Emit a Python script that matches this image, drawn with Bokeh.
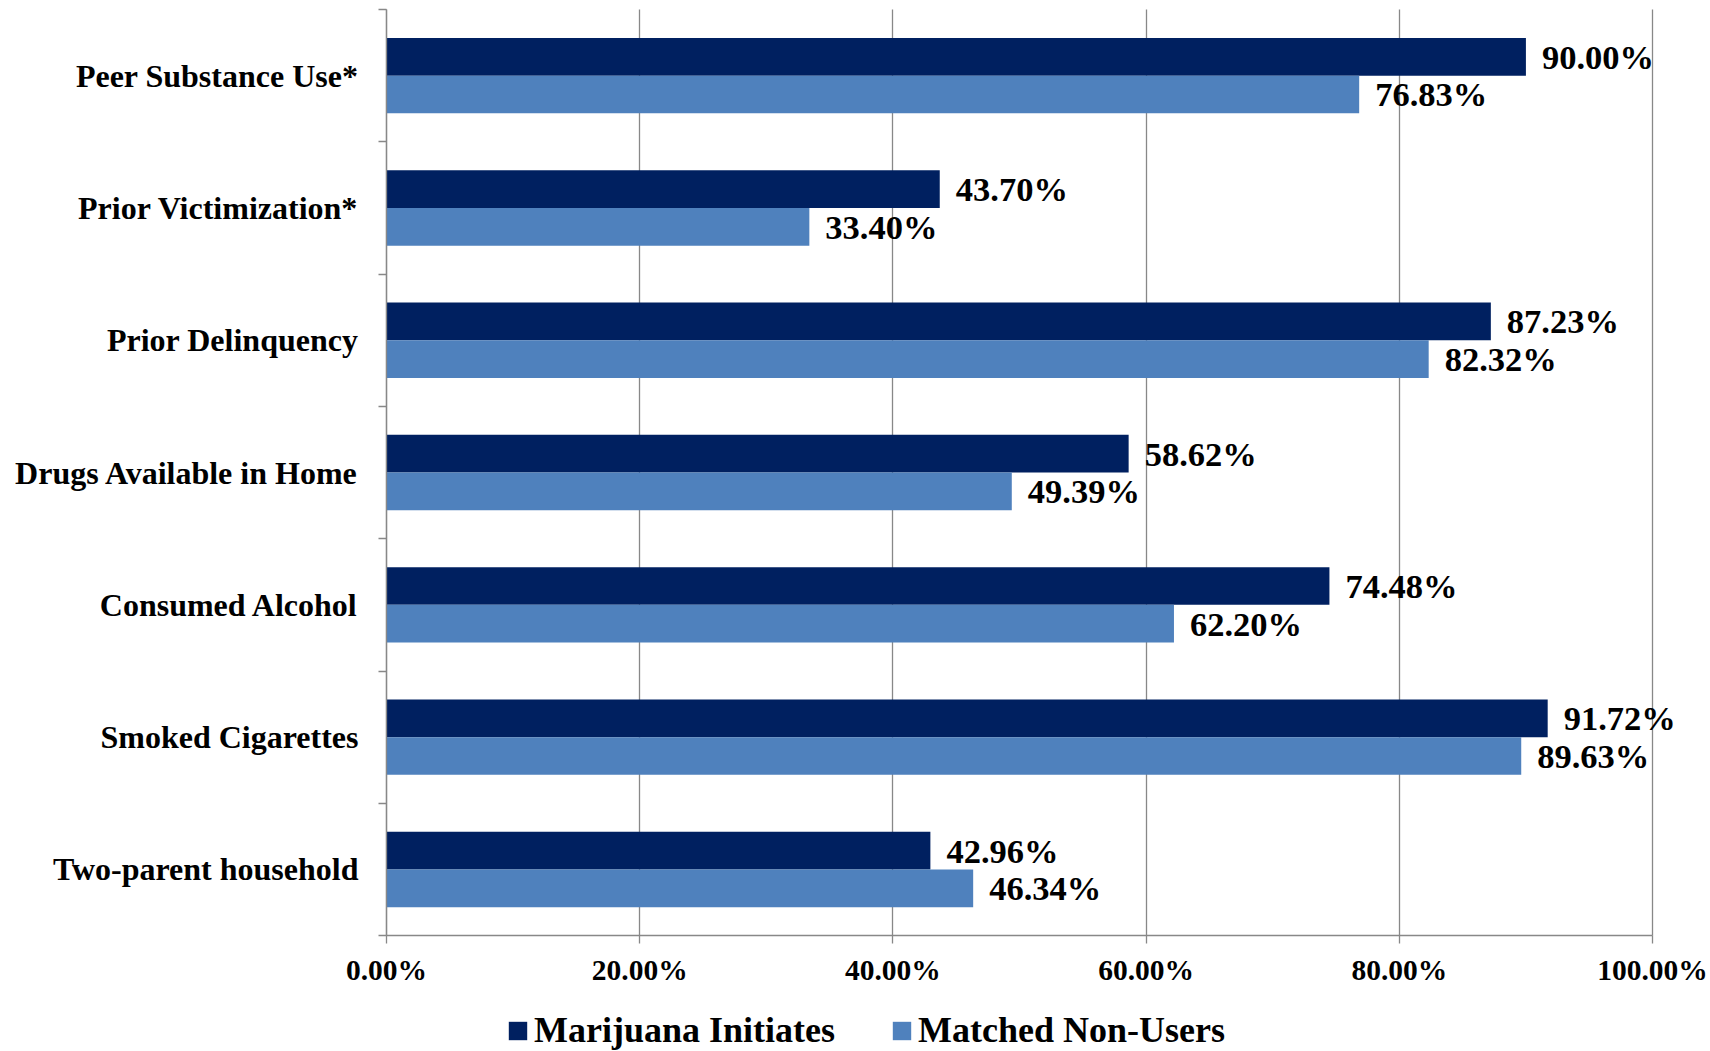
from bokeh.plotting import figure
from bokeh.models import (Range1d, FixedTicker, ColumnDataSource, LabelSet,
                          Legend, LegendItem)
from bokeh.embed import file_html
from bokeh.resources import INLINE

# ---- data ----
categories = ["Two-parent household", "Smoked Cigarettes", "Consumed Alcohol",
              "Drugs Available in Home", "Prior Delinquency",
              "Prior Victimization*", "Peer Substance Use*"]
initiates = [42.96, 91.72, 74.48, 58.62, 87.23, 43.70, 90.00]
non_users = [46.34, 89.63, 62.20, 49.39, 82.32, 33.40, 76.83]
series_names = ["Marijuana Initiates", "Matched Non-Users"]
x_ticks = [0, 20, 40, 60, 80, 100]
x_tick_labels = ["0.00%", "20.00%", "40.00%", "60.00%", "80.00%", "100.00%"]

DARK = "#002060"
LIGHT = "#4F81BD"
GRID = "#888888"
FONT = "Liberation Serif"
BAR_H = 0.285

n = len(categories)
centers = list(range(n))
bounds = [i - 0.5 for i in range(n + 1)]
Y_LO, Y_HI = -0.5, n - 0.5

src = ColumnDataSource(dict(
    y_dark=[c + BAR_H / 2 for c in centers],
    y_light=[c - BAR_H / 2 for c in centers],
    initiates=initiates,
    non_users=non_users,
    lab_i=[f"{v:.2f}%" for v in initiates],
    lab_n=[f"{v:.2f}%" for v in non_users],
))

# The frame covers the whole canvas: 0% at x=386 px, 100% at x=1652 px,
# categories span y=9..935 px; axes are pinned inside the frame.
p = figure(width=1710, height=1051, x_range=Range1d(-30.49, 104.58),
           y_range=Range1d(-1.376, 6.568), output_backend="svg",
           toolbar_location=None, min_border=0)
p.outline_line_color = None
p.background_fill_color = "white"

# grid lines
xg = p.xgrid[0]
xg.grid_line_color = GRID
xg.grid_line_width = 1.3
if "cross_bounds" in xg.properties():
    xg.ticker = FixedTicker(ticks=x_ticks)
    xg.cross_bounds = (Y_LO, Y_HI)
else:
    xg.visible = False
    p.segment(x0=x_ticks, x1=x_ticks, y0=[Y_LO] * len(x_ticks),
              y1=[Y_HI] * len(x_ticks), line_color=GRID, line_width=1.3)
p.ygrid.visible = False

r1 = p.hbar(y="y_dark", right="initiates", left=0, height=BAR_H, source=src,
            fill_color=DARK, line_color=None)
r2 = p.hbar(y="y_light", right="non_users", left=0, height=BAR_H, source=src,
            fill_color=LIGHT, line_color=None)

for col, ycol, lab in (("initiates", "y_dark", "lab_i"), ("non_users", "y_light", "lab_n")):
    p.add_layout(LabelSet(x=col, y=ycol, text=lab, source=src, x_offset=16,
                          text_baseline="middle", text_font=FONT,
                          text_font_style="bold", text_font_size="34.5px",
                          text_color="black"))

# x axis, pinned at the bottom of the categories
xa = p.xaxis[0]
xa.fixed_location = Y_LO
xa.ticker = FixedTicker(ticks=x_ticks)
xa.bounds = (0, 100)
xa.major_label_overrides = {t: l for t, l in zip(x_ticks, x_tick_labels)}
xa.major_tick_out = 8
xa.major_tick_in = 0
xa.minor_tick_out = 0
xa.minor_tick_in = 0
xa.axis_line_color = GRID
xa.axis_line_width = 1.3
xa.major_tick_line_color = GRID
xa.major_tick_line_width = 1.3
xa.major_label_text_font = FONT
xa.major_label_text_font_style = "bold"
xa.major_label_text_font_size = "29.5px"
xa.major_label_text_color = "black"
xa.major_label_standoff = 10

# y axis pinned at 0%: labels at centers, ticks at category boundaries (minor)
ya = p.yaxis[0]
ya.fixed_location = 0
ya.bounds = (Y_LO, Y_HI)
ya.ticker = FixedTicker(ticks=centers, minor_ticks=bounds)
ya.major_label_overrides = {c: name for c, name in zip(centers, categories)}
ya.major_tick_out = 0
ya.major_tick_in = 0
ya.minor_tick_out = 8
ya.minor_tick_in = 0
ya.minor_tick_line_color = GRID
ya.minor_tick_line_width = 1.3
ya.axis_line_color = GRID
ya.axis_line_width = 1.3
ya.major_label_text_font = FONT
ya.major_label_text_font_style = "bold"
ya.major_label_text_font_size = "32px"
ya.major_label_text_color = "black"
ya.major_label_standoff = 20

legend = Legend(items=[LegendItem(label=series_names[0], renderers=[r1]),
                       LegendItem(label=series_names[1], renderers=[r2])],
                orientation="horizontal", location=(506, 0),
                label_text_font=FONT, label_text_font_style="bold",
                label_text_font_size="36px", label_text_color="black",
                glyph_width=23, glyph_height=23, spacing=55, label_standoff=5,
                padding=0, margin=0, border_line_color=None,
                background_fill_alpha=0)
p.add_layout(legend)

open("out.html", "w").write(file_html(p, INLINE))
